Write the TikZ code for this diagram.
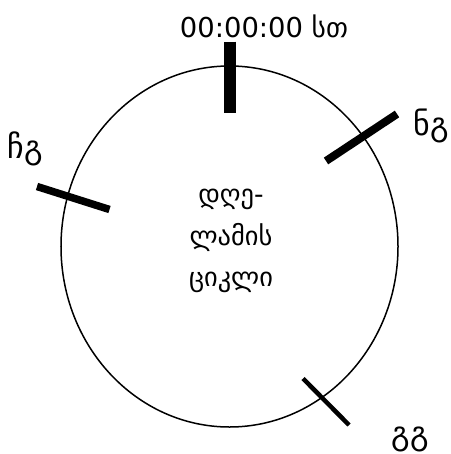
\documentclass[tikz,border=0pt]{standalone}
\usepackage{fontspec}
\setmainfont{DejaVu Sans}
\usetikzlibrary{shapes.geometric}
\begin{document}
\begin{tikzpicture}[x=1bp,y=-1bp,
  lbl/.style={font=\fontsize{32}{36}\selectfont, inner sep=0pt},
  tick/.style={line width=#1, line cap=butt},
  ring/.style={line width=1.5bp}]
\useasboundingbox (0,0) rectangle (451,454);
\node[ring, draw, ellipse, minimum width=337bp, minimum height=361bp, inner sep=0pt] (cyc) at (229.5,246.5) {};
\node[lbl, align=center, font=\fontsize{26.5}{42}\selectfont] (ctr) at (231,241) {დღე-\\ლამის\\ციკლი};
\node[lbl, font=\fontsize{27.5}{32}\selectfont] (top) at (264,26) {00:00:00 სთ};
\node[lbl] (ng) at (431,126) {ნგ};
\node[lbl] (chg) at (25,149) {ჩგ};
\node[lbl] (gg) at (410,439) {გგ};
\coordinate (t1) at (230,41.7);
\coordinate (t2) at (230,113.3);
\coordinate (r1) at (326,161);
\coordinate (r2) at (397,114);
\coordinate (l1) at (37,186.5);
\coordinate (l2) at (109.5,209.5);
\coordinate (b1) at (303,378.5);
\coordinate (b2) at (349,425);
\draw[tick=12bp] (t1) -- (t2);
\draw[tick=8bp] (r1) -- (r2);
\draw[tick=7.5bp] (l1) -- (l2);
\draw[tick=4.5bp] (b1) -- (b2);
\end{tikzpicture}
\end{document}
